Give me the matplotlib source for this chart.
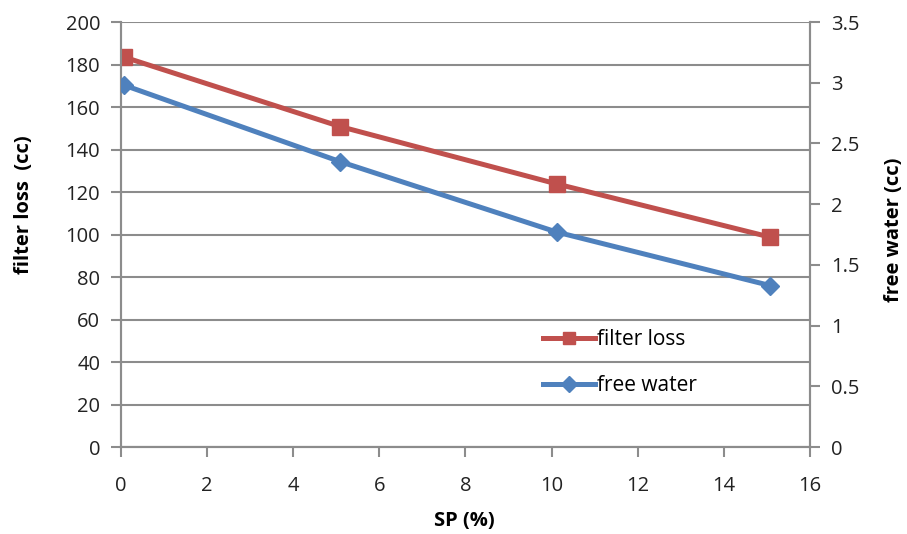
import numpy as np
import matplotlib.pyplot as plt

plt.rcParams['font.family'] = ['Open Sans', 'DejaVu Sans']

sp = [0.07, 5.09, 10.12, 15.07]
filter_loss = [183.5, 150.8, 123.8, 98.8]
free_water = [2.98, 2.35, 1.77, 1.33]

red = '#C0504D'
blue = '#4F81BD'
grey = '#8C8C8C'
fs = 14.5

fig = plt.figure(figsize=(9.07, 5.34), dpi=100)
ax = fig.add_axes([0.1334, 0.1629, 0.7596, 0.7959])
ax2 = ax.twinx()

l1, = ax.plot(sp, filter_loss, color=red, lw=3.6, marker='s', ms=11,
              label='filter loss', zorder=3)
l2, = ax2.plot(sp, free_water, color=blue, lw=3.6, marker='D', ms=9,
               label='free water', zorder=3)

ax.set_xlim(0, 16)
ax.set_ylim(0, 200)
ax2.set_ylim(0, 3.5)
ax.set_xticks(np.arange(0, 17, 2))
ax.set_yticks(np.arange(0, 201, 20))
ax2.set_yticks(np.arange(0, 3.51, 0.5))
ax2.set_yticklabels(['0', '0.5', '1', '1.5', '2', '2.5', '3', '3.5'])

ax.yaxis.grid(True, color=grey, lw=1.5)
ax.set_axisbelow(True)

for a in (ax, ax2):
    for s in a.spines.values():
        s.set_color(grey)
        s.set_linewidth(1.5)
    a.spines['top'].set_visible(False)
    a.tick_params(colors='#222222', labelsize=fs, length=7, width=1.5,
                  color=grey, direction='out', pad=8)
ax.tick_params(axis='x', pad=14)

ax.set_xlabel('SP (%)', fontsize=fs, fontweight='bold')
ax.set_ylabel('filter loss  (cc)', fontsize=fs, fontweight='bold')
ax2.set_ylabel('free water (cc)', fontsize=fs, fontweight='bold')
ax.xaxis.set_label_coords(0.499, -0.15)
ax.yaxis.set_label_coords(-0.126, 0.569)
ax2.yaxis.set_label_coords(1.108, 0.511)

ax.legend([l1, l2], ['filter loss', 'free water'], loc='lower left',
          bbox_to_anchor=(0.6, 0.1), frameon=False, fontsize=fs + 0.5,
          handlelength=2.5, handletextpad=0.1, labelspacing=1.2,
          borderaxespad=0, markerscale=0.85)

fig.savefig('out.png', dpi=100)
